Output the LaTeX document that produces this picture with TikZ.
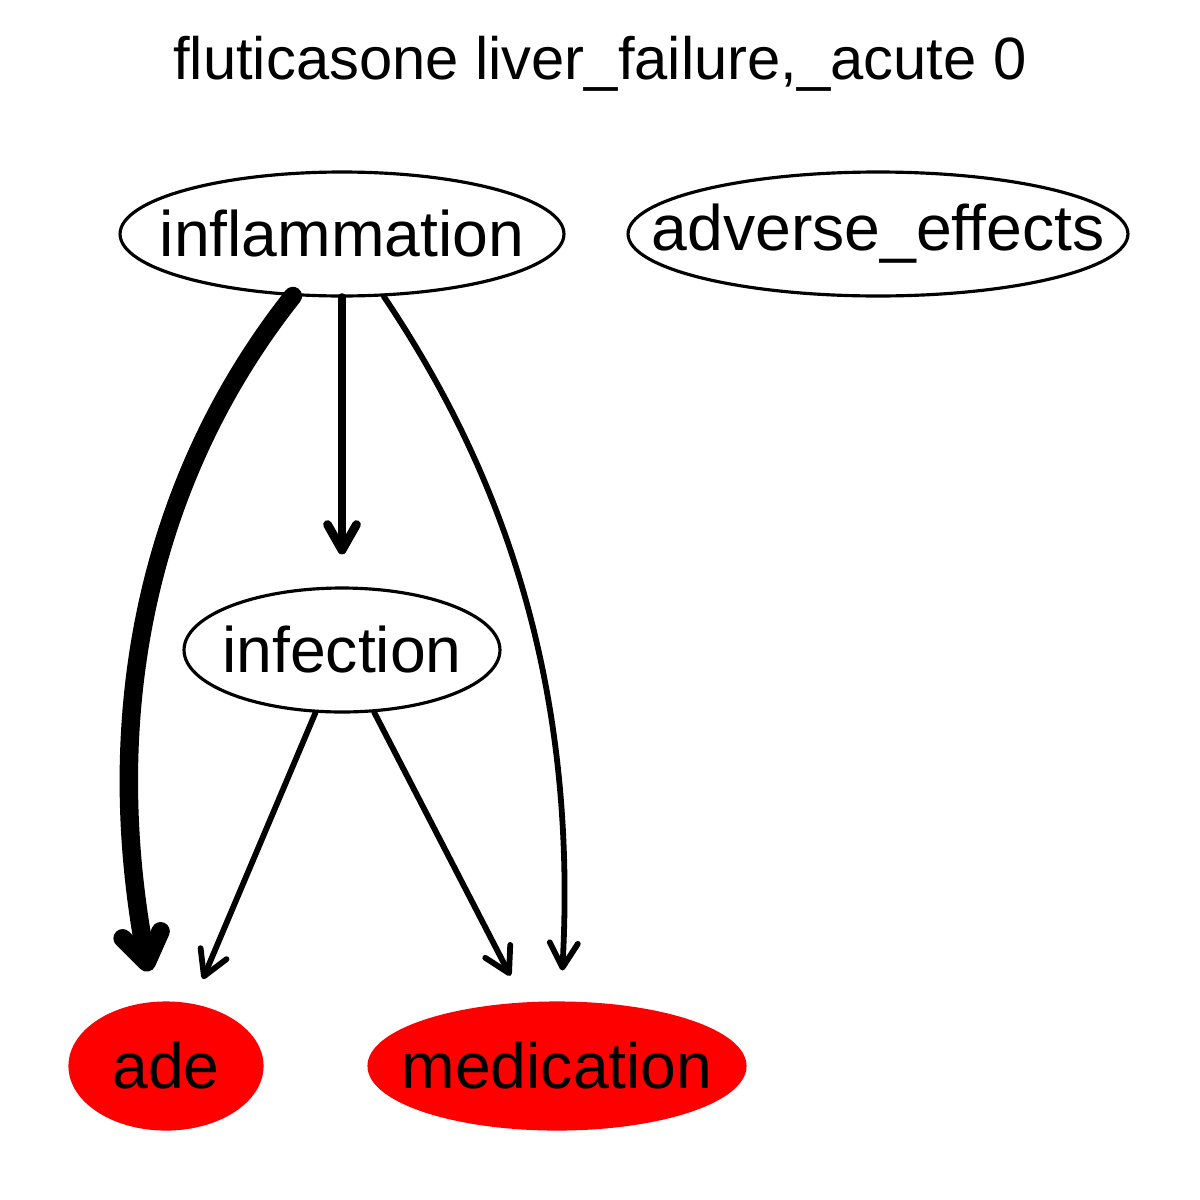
\documentclass[tikz,border=0pt]{standalone}
\usepackage{fontspec}
\setmainfont{Liberation Sans}
\usetikzlibrary{positioning,shapes,arrows.meta,calc}
\definecolor{adered}{HTML}{FF0000}
\newcommand{\cbox}[1]{\makebox[0pt]{#1}}

\begin{document}
\begin{tikzpicture}[x=0.02cm, y=-0.02cm, line cap=round, line join=round,
    var/.style={ellipse, draw=black, line width=1.8pt, inner sep=0pt, minimum height=2.48cm, font=\fontsize{36.6}{40}\selectfont},
    outcome/.style={var, fill=adered, draw=adered, minimum height=2.52cm},
    edge/.style={draw=black, line width=3.3pt, -{Straight Barb[length=14pt,width=16pt,round]}, shorten >=0.6cm}]
  \useasboundingbox (0,0) rectangle (1200,1200);
  \node (title) at (600,64) {\fontsize{34}{40}\selectfont fluticasone liver\_failure,\_acute 0};
  % variables
  \node[var, minimum width=8.88cm] (inflammation) at (342,234) {\cbox{inflammation}};
  \node[var, minimum width=10cm] (adverse) at (878,234) {\cbox{adverse\_effects}};
  \node[var, minimum width=6.32cm] (infection) at (342,650) {\cbox{infection}};
  \node[outcome, minimum width=3.84cm] (ade) at (166,1066) {\cbox{ade}};
  \node[outcome, minimum width=7.52cm] (medication) at (557,1066) {\cbox{medication}};
  % edges
  \draw[edge, line width=10.5pt, -{Straight Barb[length=16pt,width=22pt,round]}, shorten >=0.62cm] (inflammation) .. controls (155,470) and (98,700) .. (ade);
  \draw[edge, line width=5pt, -{Straight Barb[length=14.5pt,width=16.5pt,round]}, shorten >=0.64cm] (inflammation) -- (infection);
  \draw[edge, shorten >=0.62cm] (inflammation) .. controls (480,440) and (580,650) .. (medication);
  \draw[edge, shorten >=0.54cm] (infection) -- (ade);
  \draw[edge, shorten >=0.6cm] (infection) -- (medication);
\end{tikzpicture}
\end{document}
